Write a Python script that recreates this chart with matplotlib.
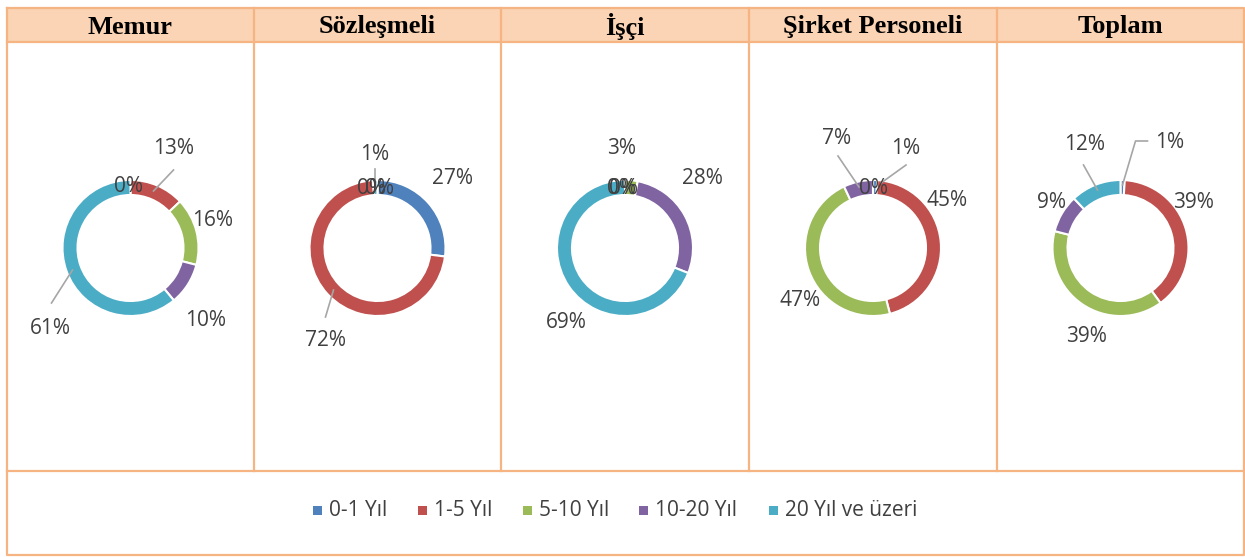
import matplotlib
matplotlib.use('Agg')
import matplotlib.pyplot as plt
from matplotlib.patches import Rectangle

# veri
groups = ['Memur', 'Sözleşmeli', 'İşçi', 'Şirket Personeli', 'Toplam']
categories = ['0-1 Yıl', '1-5 Yıl', '5-10 Yıl', '10-20 Yıl', '20 Yıl ve üzeri']
memur = [0, 13, 16, 10, 61]
sozlesmeli = [27, 72, 0, 0, 1]
isci = [0, 0, 3, 28, 69]
sirket = [1, 45, 47, 7, 0]
toplam = [1, 39, 39, 9, 12]
series = [memur, sozlesmeli, isci, sirket, toplam]

colors = ['#4F81BD', '#C0504D', '#9BBB59', '#8064A2', '#4BACC6']
border = '#F5B482'
head_fill = '#FAD4B4'
txt = '#404040'
lead = '#A6A6A6'

# etiket konumlari (piksel, merkeze gore)
label_off = [
    [(-2, -61), (43, -100), (82, -28), (75, 72), (-80, 80)],
    [(75, -70), (-52, 93), (-6, -59), (2, -59), (-3, -93)],
    [(-4, -60), (-1, -60), (-3, -100), (77, -69), (-59, 75)],
    [(33, -100), (74, -48), (-73, 53), (-36, -109), (0, -60)],
    [(49, -105), (73, -45), (-34, 89), (-69, -45), (-36, -103)],
]
leaders = [
    [[(43, -78), (23, -57)], [(-79, 55), (-58, 22)]],
    [[(-3, -79), (-3, -58)], [(-52, 69), (-44, 42)]],
    [],
    [[(-35, -92), (-14, -61)], [(33, -83), (8, -65)]],
    [[(-37, -83), (-23, -58)], [(27, -107), (15, -107), (2, -63)]],
]

W, H = 1245, 557
fig = plt.figure(figsize=(W / 100, H / 100), dpi=100)
base = fig.add_axes([0, 0, 1, 1])
base.set_xlim(0, W)
base.set_ylim(H, 0)
base.axis('off')

left, right, top, bottom = 7, 1244, 8, 555
head_b, leg_t = 42, 471
col_x = [7, 254, 501, 749, 997, 1244]

base.add_patch(Rectangle((left, top), right - left, head_b - top,
                         facecolor=head_fill, edgecolor='none'))
lw = 1.6
base.plot([left, right, right, left, left], [top, top, bottom, bottom, top],
          color=border, lw=lw)
base.plot([left, right], [head_b, head_b], color=border, lw=lw)
base.plot([left, right], [leg_t, leg_t], color=border, lw=lw)
for x in col_x[1:-1]:
    base.plot([x, x], [top, leg_t], color=border, lw=lw)

cy = 248
R = 68
half = 120
centers = []
for i, (g, vals) in enumerate(zip(groups, series)):
    cx = (col_x[i] + col_x[i + 1]) / 2
    centers.append(cx)
    base.text(cx, (top + head_b) / 2 + 2, g, ha='center', va='center',
              fontsize=19, fontweight='bold', family='Liberation Serif')
    ax = fig.add_axes([(cx - half) / W, (H - cy - half) / H, 2 * half / W, 2 * half / H])
    ax.pie(vals, colors=colors, startangle=90, counterclock=False,
           radius=R / half,
           wedgeprops=dict(width=15 / half, edgecolor='white', linewidth=1.5))
    ax.set_xlim(-1, 1)
    ax.set_ylim(-1, 1)
    ax.set_aspect('equal')
    ax.axis('off')

# etiketler en ustte
top_ax = fig.add_axes([0, 0, 1, 1])
top_ax.set_xlim(0, W)
top_ax.set_ylim(H, 0)
top_ax.axis('off')
for i, vals in enumerate(series):
    cx = centers[i]
    for line in leaders[i]:
        top_ax.plot([cx + p[0] for p in line], [cy + p[1] for p in line],
                    color=lead, lw=1.2)
    for v, (dx, dy) in zip(vals, label_off[i]):
        top_ax.text(cx + dx, cy + dy, f'{v}%', ha='center', va='center',
                    fontsize=15, color=txt, family='Open Sans')

# legend
leg_y = 510
leg_x = [317, 422, 527, 643, 773]
for x, c, lab in zip(leg_x, colors, categories):
    top_ax.add_patch(Rectangle((x - 4.5, leg_y - 4.5), 9, 9, facecolor=c, edgecolor='none'))
    top_ax.text(x + 12, leg_y, lab, ha='left', va='center', fontsize=15,
                color=txt, family='Open Sans')

fig.savefig('out.png', dpi=100)
